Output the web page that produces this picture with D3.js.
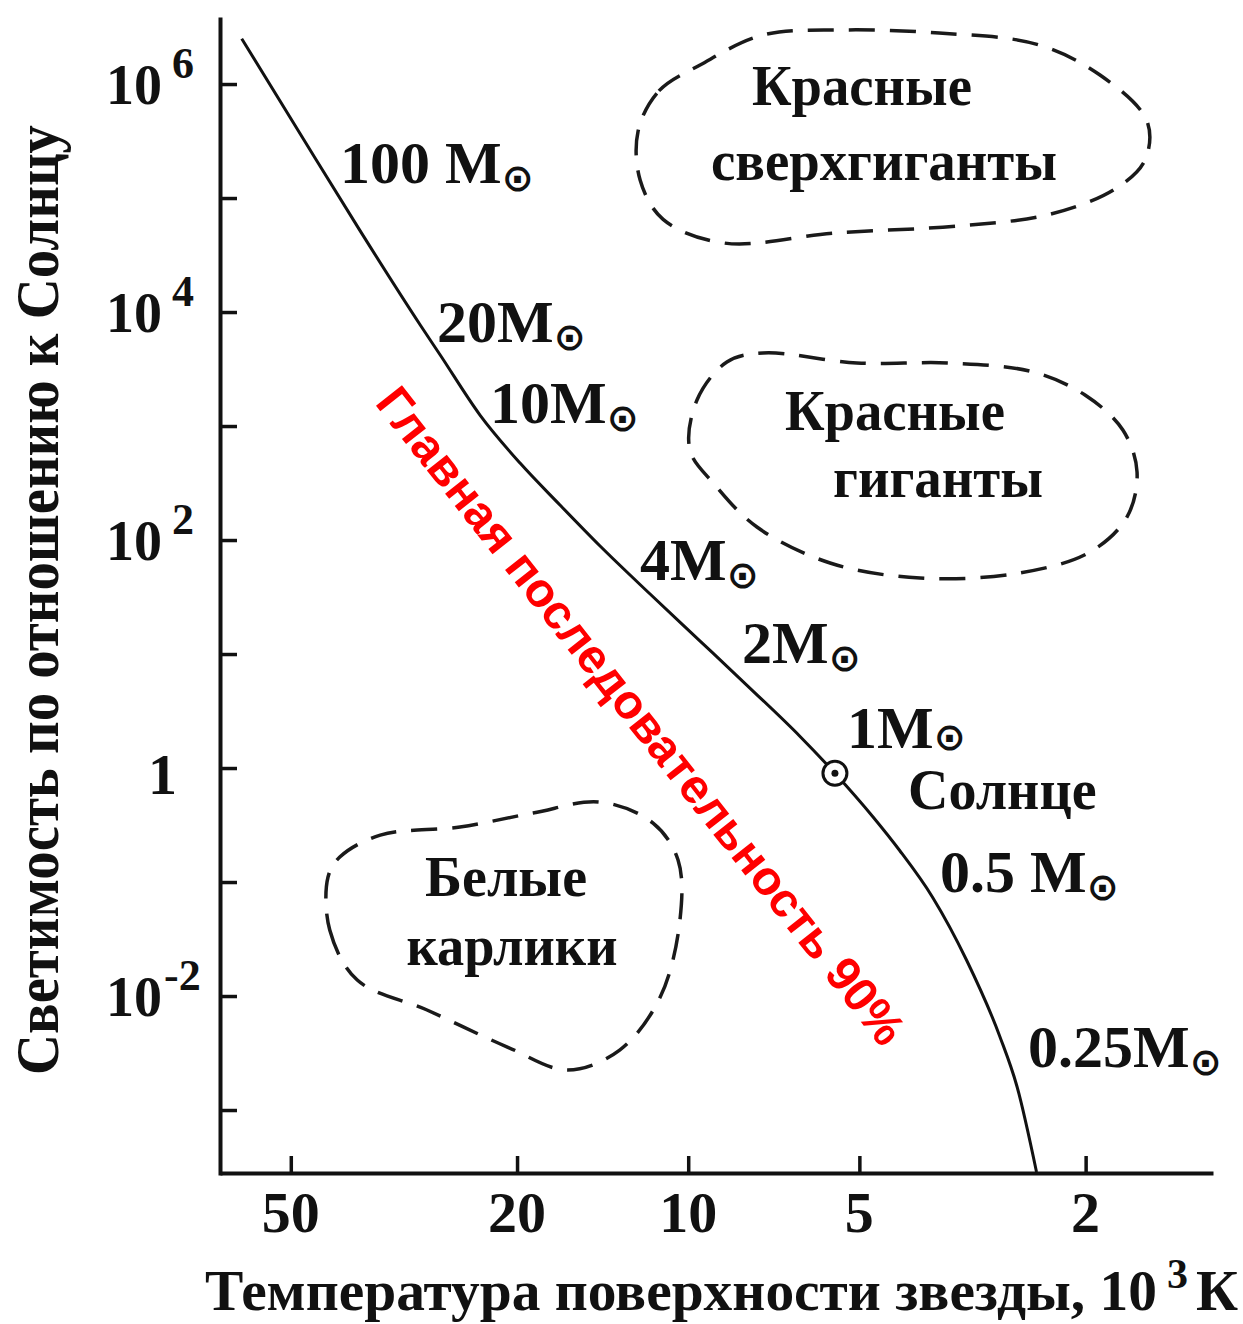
<!DOCTYPE html>
<html>
<head>
<meta charset="utf-8">
<script src="https://cdn.jsdelivr.net/npm/d3@7"></script>
<style>
  html, body { margin: 0; padding: 0; background: #fff; }
  svg { display: block; }
  .serif { font-family: "Liberation Serif", "DejaVu Serif", serif; font-weight: bold; fill: #111; }
  .sym { font-family: "DejaVu Sans", sans-serif; font-weight: bold; }
</style>
</head>
<body>
<svg id="chart" width="1243" height="1324"></svg>
<script>
// Main sequence: surface temperature (10^3 K) and luminosity (L/L_sun)
const seqT = [61, 48.2, 37.8, 29.6, 27.3, 23.24, 19.76, 16.81, 14.29, 11.67, 9.53, 7.79, 6.37, 5.52, 4.73, 4.25, 3.72, 3.24, 2.83, 2.64, 2.44];
const seqL = [2.5e6, 3.7e5, 5.2e4, 7.7e3, 4200, 1248, 473, 203, 88.6, 33.6, 13.0, 5.03, 1.91, 0.90, 0.372, 0.19, 0.074, 0.0207, 0.0044, 0.0016, 2.86e-4];

// The Sun
const sunT = 5.52;
const sunL = 0.90;

// Axis ticks
const xTicks = [50, 20, 10, 5, 2];
const yTickExps = [-3, -2, -1, 0, 1, 2, 3, 4, 5, 6];
const yLabelExps = [6, 4, 2, 0, -2];

// Region outlines (temperature, luminosity)
const superT = [12.25, 11.26, 9.53, 7.39, 5.36, 3.62, 2.445, 1.887, 1.56, 1.573, 1.776, 2.31, 3.33, 5.52, 8.65, 11.07, 12.15];
const superL = [3.87e5, 8.7e5, 1.47e6, 2.69e6, 2.98e6, 2.8e6, 2.24e6, 1.2e6, 4.73e5, 2.15e5, 1.2e5, 7.2e4, 5.7e4, 4.93e4, 4.03e4, 6.5e4, 1.44e5];

const giantT = [9.93, 9.65, 8.55, 7.39, 5.05, 3.46, 2.475, 2.005, 1.72, 1.624, 1.692, 1.965, 2.61, 3.91, 5.63, 7.57, 8.97];
const giantL = [615, 1690, 3640, 4370, 3570, 3570, 2980, 1870, 922, 395, 159, 78.5, 51.4, 46.4, 62.9, 130, 304];

const dwarfT = [43.0, 42.7, 38.2, 28.8, 20.8, 16.3, 13.2, 11.2, 10.34, 10.42, 11.53, 14.29, 18.75, 25.2, 34.8, 41.0];
const dwarfL = [0.1106, 0.0379, 0.0138, 0.00754, 0.00357, 0.002244, 0.003358, 0.0098, 0.0464, 0.156, 0.329, 0.503, 0.403, 0.304, 0.258, 0.1656];

// Mass labels along the sequence
const massText = ["100 M", "20M", "10M", "4M", "2M", "1M", "0.5 M", "0.25M"];

const svg = d3.select("#chart");

// Temperature decreases to the right
const x = d3.scaleLog().domain([66.6, 1.194]).range([220, 1213]);
const y = d3.scaleLog().domain([Math.pow(10, -3.57), Math.pow(10, 6.588)]).range([1175, 17]);

// Axes with inward ticks
svg.append("g")
  .attr("transform", "translate(220,0)")
  .call(d3.axisRight(y).tickValues(yTickExps.map(e => Math.pow(10, e))).tickSize(17).tickSizeOuter(0).tickFormat(""))
  .call(g => g.select(".domain").attr("stroke", "#111").attr("stroke-width", 4))
  .call(g => g.selectAll(".tick line").attr("stroke", "#111").attr("stroke-width", 3.5));

svg.append("g")
  .attr("transform", "translate(0,1173)")
  .call(d3.axisTop(x).tickValues(xTicks).tickSize(17).tickSizeOuter(0).tickFormat(""))
  .call(g => g.select(".domain").attr("stroke", "#111").attr("stroke-width", 4))
  .call(g => g.selectAll(".tick line").attr("stroke", "#111").attr("stroke-width", 3.5));

// X tick labels
svg.append("g").selectAll("text")
  .data(xTicks)
  .join("text")
  .attr("class", "serif")
  .attr("x", d => x(d))
  .attr("y", 1232)
  .attr("text-anchor", "middle")
  .attr("font-size", 58)
  .text(d => d);

// Y tick labels as powers of ten
const yl = svg.append("g");
yLabelExps.forEach(e => {
  const ty = y(Math.pow(10, e));
  if (e === 0) {
    yl.append("text").attr("class", "serif")
      .attr("x", 177).attr("y", ty + 26).attr("text-anchor", "end")
      .attr("font-size", 58).text("1");
  } else {
    const t = yl.append("text").attr("class", "serif")
      .attr("x", 106).attr("y", ty + 20).attr("font-size", 56);
    t.append("tspan").text("10");
    t.append("tspan").attr("dx", e < 0 ? 2 : 10).attr("dy", -26).attr("font-size", 44).text(e < 0 ? "-" + (-e) : e);
  }
});

// Dashed region outlines
const outline = d3.line()
  .x(d => x(d[0]))
  .y(d => y(d[1]))
  .curve(d3.curveCatmullRomClosed.alpha(0.5));

[[superT, superL], [giantT, giantL], [dwarfT, dwarfL]].forEach(([ts, ls]) => {
  svg.append("path")
    .datum(ts.map((t, i) => [t, ls[i]]))
    .attr("d", outline)
    .attr("fill", "none")
    .attr("stroke", "#1a1a1a")
    .attr("stroke-width", 3.5)
    .attr("stroke-dasharray", "26,15");
});

// Main sequence curve
const seqLine = d3.line()
  .x(d => x(d[0]))
  .y(d => y(d[1]))
  .curve(d3.curveMonotoneX);

svg.append("path")
  .datum(seqT.map((t, i) => [t, seqL[i]]))
  .attr("d", seqLine)
  .attr("fill", "none")
  .attr("stroke", "#111")
  .attr("stroke-width", 3);

// Sun marker
svg.append("circle")
  .attr("cx", x(sunT)).attr("cy", y(sunL)).attr("r", 12)
  .attr("fill", "#fff").attr("stroke", "#111").attr("stroke-width", 3);
svg.append("circle")
  .attr("cx", x(sunT)).attr("cy", y(sunL)).attr("r", 3.5)
  .attr("fill", "#111");

// Mass labels with the solar symbol as subscript
const massPos = [[340, 183], [437, 342], [490, 423], [640, 580], [742, 663], [847, 748], [940, 892], [1028, 1067]];
const symDrop = [8, 8, 8, 8, 8, 2, 8, 8];
massText.forEach((s, i) => {
  const t = svg.append("text").attr("class", "serif")
    .attr("x", massPos[i][0]).attr("y", massPos[i][1])
    .attr("font-size", 60);
  t.append("tspan").text(s);
  t.append("tspan").attr("class", "sym").attr("font-size", 38).attr("dy", symDrop[i]).text("⊙");
});

svg.append("text").attr("class", "serif")
  .attr("x", 908).attr("y", 809).attr("font-size", 56)
  .text("Солнце");

// Region names
const regionText = [
  ["Красные", 862, 105, 220], ["сверхгиганты", 884, 180, 346],
  ["Красные", 895, 430, 220], ["гиганты", 938, 497, 210],
  ["Белые", 506, 896, 162], ["карлики", 512, 965, 211]
];
regionText.forEach(([s, cx, by, w]) => {
  svg.append("text").attr("class", "serif")
    .attr("x", cx - w / 2).attr("y", by).attr("font-size", 56)
    .attr("textLength", w).attr("lengthAdjust", "spacingAndGlyphs")
    .text(s);
});

// Main sequence caption
svg.append("text")
  .attr("transform", "translate(641,716) rotate(51.8)")
  .attr("text-anchor", "middle")
  .attr("dominant-baseline", "central")
  .attr("font-family", "'Liberation Sans', Arial, sans-serif")
  .attr("font-weight", "bold")
  .attr("font-size", 48)
  .attr("fill", "#ff0000")
  .text("Главная последовательность 90%");

// Axis titles
svg.append("text").attr("class", "serif")
  .attr("transform", "translate(58,600) rotate(-90)")
  .attr("x", -475).attr("y", 0)
  .attr("font-size", 62)
  .attr("textLength", 950).attr("lengthAdjust", "spacingAndGlyphs")
  .text("Светимость по отношению к Солнцу");

svg.append("text").attr("class", "serif")
  .attr("x", 205).attr("y", 1310).attr("font-size", 57)
  .attr("textLength", 952).attr("lengthAdjust", "spacingAndGlyphs")
  .text("Температура поверхности звезды, 10");
svg.append("text").attr("class", "serif")
  .attr("x", 1167).attr("y", 1288).attr("font-size", 42)
  .text("3");
svg.append("text").attr("class", "serif")
  .attr("x", 1196).attr("y", 1310).attr("font-size", 58)
  .text("К");
</script>
</body>
</html>
